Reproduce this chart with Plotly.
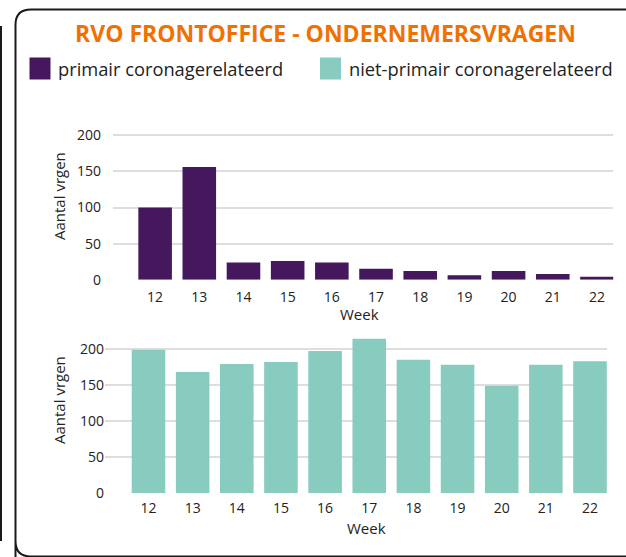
import plotly.graph_objects as go

# ---- data ----
weeks = [12, 13, 14, 15, 16, 17, 18, 19, 20, 21, 22]
week_labels = [str(w) for w in weeks]
primair = [100, 156, 24, 26, 24, 15, 12, 6, 12, 8, 4]
niet_primair = [199, 168, 179, 182, 197, 214, 185, 178, 149, 178, 183]
y_ticks = [0, 50, 100, 150, 200]

title_text = "RVO FRONTOFFICE - ONDERNEMERSVRAGEN"
series_names = ["primair coronagerelateerd", "niet-primair coronagerelateerd"]
y_title = "Aantal vrgen"
x_title = "Week"

PURPLE = "#45175D"
TEAL = "#88CBBF"
ORANGE = "#F07100"
TXT = "#222222"
GRID = "#DEDEDE"
FONT = "Open Sans"

W, H = 626, 557


def px(x):
    return x / W


def py(y):
    return 1 - y / H


fig = go.Figure()
fig.add_trace(go.Bar(x=weeks, y=primair, name=series_names[0], marker_color=PURPLE,
                     width=0.76, xaxis="x", yaxis="y", showlegend=False))
fig.add_trace(go.Bar(x=weeks, y=niet_primair, name=series_names[1], marker_color=TEAL,
                     width=0.76, xaxis="x2", yaxis="y2", showlegend=False))

xcommon = dict(tickmode="array", tickvals=weeks, ticktext=week_labels, automargin=False,
               showgrid=False, zeroline=False, showline=False,
               ticks="outside", tickcolor="rgba(0,0,0,0)",
               tickfont=dict(family=FONT, size=14, color=TXT))
ycommon = dict(tickmode="array", tickvals=y_ticks, showgrid=True, gridcolor=GRID,
               gridwidth=1.5, zeroline=False, showline=False, automargin=False,
               tickfont=dict(family=FONT, size=14, color=TXT))

fig.update_layout(
    template="none",
    width=W, height=H,
    margin=dict(l=0, r=0, t=0, b=0, pad=0, autoexpand=False),
    paper_bgcolor="white", plot_bgcolor="white",
    showlegend=False,
    bargap=0.2,
    xaxis=dict(domain=[px(112.7), px(613.3)], range=[11.04, 22.37], anchor="y",
               ticklen=4, **xcommon),
    yaxis=dict(domain=[py(279.7), py(133.9)], range=[0, 202], anchor="x",
               ticks="outside", ticklen=8, tickcolor="rgba(0,0,0,0)", **ycommon),
    xaxis2=dict(domain=[px(105), px(607)], range=[11.015, 22.385], anchor="y2",
                ticklen=2, **xcommon),
    yaxis2=dict(domain=[py(493.3), py(337.4)], range=[0, 216], anchor="x2", **ycommon),
)

annotations = [
    dict(text=f"<b>{title_text}</b>", x=px(325), y=py(33), xref="paper", yref="paper",
         showarrow=False, xanchor="center", yanchor="middle",
         font=dict(family=FONT, size=23, color=ORANGE)),
    dict(text=series_names[0], x=px(56), y=py(68), xref="paper", yref="paper",
         showarrow=False, xanchor="left", yanchor="middle",
         font=dict(family=FONT, size=18.3, color=TXT)),
    dict(text=series_names[1], x=px(347), y=py(68), xref="paper", yref="paper",
         showarrow=False, xanchor="left", yanchor="middle",
         font=dict(family=FONT, size=18.3, color=TXT)),
    dict(text=y_title, x=px(59), y=py(196), xref="paper", yref="paper", textangle=-90,
         showarrow=False, xanchor="center", yanchor="middle",
         font=dict(family=FONT, size=15, color=TXT)),
    dict(text=y_title, x=px(59), y=py(400), xref="paper", yref="paper", textangle=-90,
         showarrow=False, xanchor="center", yanchor="middle",
         font=dict(family=FONT, size=15, color=TXT)),
    dict(text=x_title, x=px(359), y=py(314), xref="paper", yref="paper",
         showarrow=False, xanchor="center", yanchor="middle",
         font=dict(family=FONT, size=15, color=TXT)),
    dict(text=x_title, x=px(366), y=py(528), xref="paper", yref="paper",
         showarrow=False, xanchor="center", yanchor="middle",
         font=dict(family=FONT, size=15, color=TXT)),
]
fig.update_layout(annotations=annotations)


def P(x, y):
    return f"{px(x):.5f},{py(y):.5f}"


frame_path = (f"M {P(15.5, 600)} L {P(15.5, 541)} Q {P(15.5, 556.5)} {P(31, 556.5)} "
              f"L {P(700, 556.5)} M {P(15.5, 541)} L {P(15.5, 25)} "
              f"Q {P(15.5, 9.5)} {P(31, 9.5)} L {P(700, 9.5)} "
              f"M {P(1, 26)} L {P(1, 541)}")

shapes = [
    dict(type="path", path=frame_path, xref="paper", yref="paper",
         line=dict(color="#1A1A1A", width=2)),
    dict(type="rect", x0=px(29.5), x1=px(50.5), y0=py(57.5), y1=py(79.5), xref="paper", yref="paper",
         fillcolor=PURPLE, line=dict(width=0)),
    dict(type="rect", x0=px(320), x1=px(341), y0=py(57.5), y1=py(79.5), xref="paper", yref="paper",
         fillcolor=TEAL, line=dict(width=0)),
]
fig.update_layout(shapes=shapes)

fig.write_html(
    "out.html",
    config={"displayModeBar": False},
    post_script="document.body.style.margin='0';document.body.style.overflow='hidden';",
)
